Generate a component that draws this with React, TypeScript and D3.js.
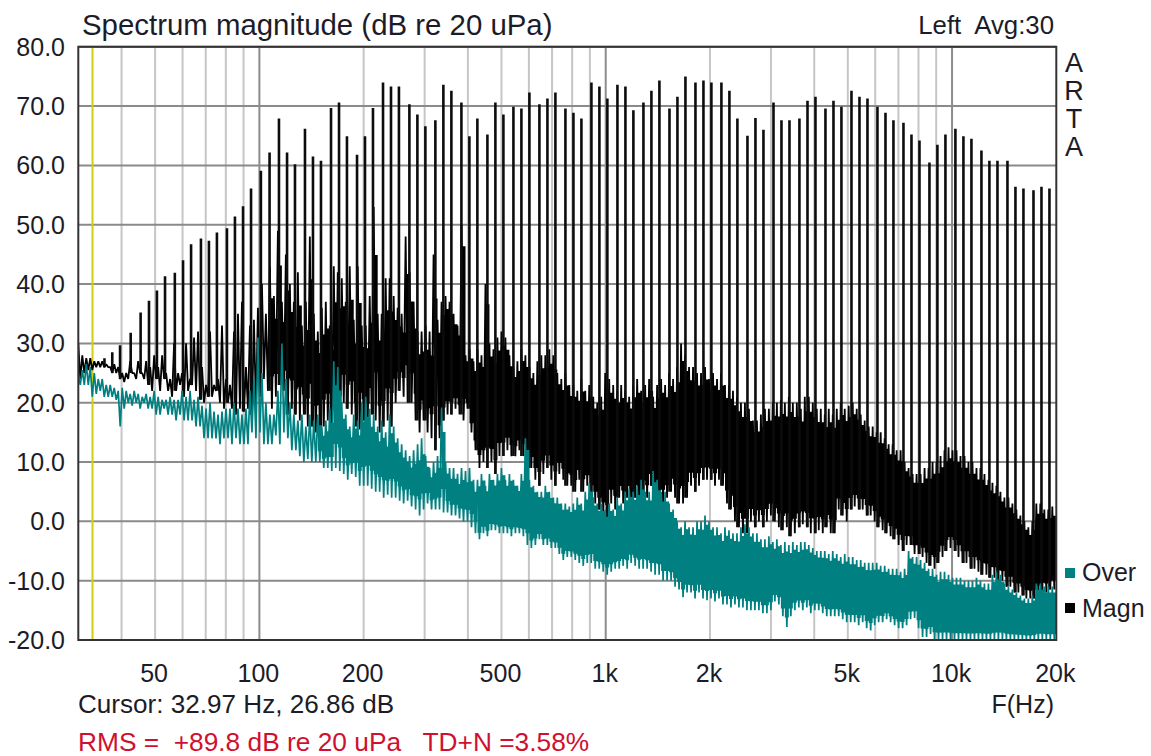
import React from "react";
import * as d3 from "d3";

const W = 1151, H = 756;
const FONT = "'Liberation Sans', Arial, sans-serif";

const yTicks = [80, 70, 60, 50, 40, 30, 20, 10, 0, -10, -20];
const majorFreqs = [100, 1000, 10000];
const minorFreqs = [40, 50, 60, 70, 80, 90, 200, 300, 400, 500, 600, 700, 800, 900, 2000, 3000, 4000, 5000, 6000, 7000, 8000, 9000];
const xLabels: [number, string][] = [[50, "50"], [100, "100"], [200, "200"], [500, "500"], [1000, "1k"], [2000, "2k"], [5000, "5k"], [10000, "10k"], [20000, "20k"]];
const cursorHz = 32.97;

const toneHz = [35.7, 37.6, 39.6, 42.5, 45.4, 48.0, 50.6, 53.4, 57.0, 60.2, 63.5, 67.8, 71.5, 75.4, 80.6, 85.0, 89.7, 94.6, 101, 107, 113.9, 120.2, 126.7, 135.4, 142.8, 150.6, 161, 169.8, 179, 191.4, 201.8, 212.8, 227.5, 239.9, 252.9, 271.1, 285.9, 301.5, 322.2, 339.8, 358.4, 383.1, 404, 426, 455.4, 480.2, 506.5, 541.4, 570.9, 602.1, 643.5, 678.7, 715.7, 765, 806.8, 850.8, 909.3, 958.9, 1011, 1081, 1140, 1202, 1285, 1355, 1429, 1528, 1611, 1699, 1816, 1915, 2019, 2158, 2276, 2400, 2566, 2706, 2854, 3051, 3217, 3393, 3625, 3825, 4033, 4310, 4546, 4793, 5124, 5404, 5699, 6090, 6424, 6773, 7240, 7636, 8053, 8605, 9073, 9570, 10226, 10786, 11376, 12158, 12820, 13525, 14454, 15243, 16075, 17185, 18122, 19110];
const toneDb = [27.5, 28.5, 29.7, 31.8, 35.2, 37.2, 38.9, 41.3, 41.9, 44, 46.7, 47.7, 47.3, 48.7, 49.4, 51.4, 53.1, 56.1, 59.1, 62.2, 67.9, 62.2, 60.2, 66.2, 61.5, 60.8, 69.7, 70.6, 64.9, 61.8, 64.9, 69.7, 74, 73.3, 73.3, 70.3, 68.6, 66.6, 67.6, 73.6, 72.6, 70.6, 64.9, 67.9, 65.2, 70.6, 68.6, 69.9, 69.6, 72.3, 70.3, 71.3, 72.3, 69.6, 68.9, 67.9, 74, 73.3, 71.3, 73.6, 73.3, 69.3, 70.6, 72.6, 74.3, 69.6, 71.6, 75, 74, 74.3, 74, 74, 72.6, 67.9, 65, 68, 66, 70.6, 67.6, 67.6, 67.9, 70.9, 71.6, 69.6, 70.9, 69.9, 72.6, 71.6, 71.3, 69.9, 68.9, 67.6, 67.2, 65.2, 64.2, 60.5, 63.5, 65.2, 66.2, 64.9, 64.5, 62.5, 60.8, 60.8, 60.8, 56.4, 56.1, 55.8, 56.4, 56.1];

// Noise envelopes, one value per log-spaced bin across 30 Hz - 20 kHz
const magnHigh = [
  30, 28, 27.5, 27.5, 27, 27, 27, 26.5, 26, 26.5,
  26, 25, 25, 27, 25, 27, 25, 27, 26, 28,
  26, 28, 25, 24, 30, 25, 25, 30, 24, 31,
  32, 26, 23, 32, 23, 24, 33, 24, 23, 32,
  35, 37, 26, 33, 34, 36, 40, 35, 43, 38,
  49, 37, 45, 40, 37, 42, 33, 37, 48, 35,
  32, 36, 37, 33, 43, 42, 41, 37, 43, 34,
  43, 33, 33, 38, 53, 35, 35, 41, 41, 38,
  36, 35, 48, 42, 37, 32, 32, 33, 32, 45,
  34, 37, 38, 37, 35, 33, 50, 28, 29, 27,
  29, 28, 40, 30, 29, 31, 32, 31, 28, 26,
  27, 29, 28, 26, 25, 27, 28, 28, 29, 28,
  25, 24, 25, 23, 23, 22, 24, 22, 23, 21,
  20, 21, 25, 24, 23, 22, 23, 22, 21, 23,
  24, 22, 23, 24, 21, 23, 24, 23, 25, 24,
  26, 30, 28, 26, 26, 25, 25, 26, 24, 25,
  24, 25, 23, 23, 22, 21, 20, 20, 19, 17,
  17, 18, 19, 19, 20, 20, 20.5, 20, 21, 20,
  20, 19, 21, 21, 20, 19, 19, 18, 19, 18,
  19, 20, 19, 19.5, 20, 19, 18, 17, 16, 16,
  15, 15, 14, 13, 13, 12, 12, 10, 9, 8,
  8, 8, 9, 9, 10, 10, 11, 12, 12.5, 12,
  12, 11, 11, 10, 10, 9, 9, 8, 7, 6.5,
  6, 5, 4, 4, 3, 2, 1, 0, -1, 0,
  3, 3, 2, 2, 2.5,
];
const magnLow = [
  24, 25, 25.5, 25.5, 26, 26, 26, 26, 25, 25,
  24, 23.5, 24, 25, 24, 25, 24, 23, 22, 24,
  22, 24, 22, 21, 22, 23, 21, 22, 23, 22,
  20.5, 20, 21, 21, 22, 20, 19, 20, 19, 18,
  19, 18.5, 19, 18, 19, 21, 24, 22, 19, 21,
  23, 22, 18, 19, 18, 17, 18, 16, 16, 15,
  16, 16, 17, 15, 16, 15, 20, 19, 18, 16,
  15.5, 17, 16, 18, 17, 15, 16, 17, 16, 20,
  22, 21, 20, 20, 17, 15, 17, 15, 14, 12,
  14, 17, 18, 18, 19, 18, 17, 19, 15, 12,
  9, 10, 9, 10, 8, 11, 11, 12, 11, 11,
  12, 11, 10, 9, 7, 6, 8, 9, 7, 6,
  8, 7, 6, 6, 5, 7, 5, 6, 4, 3,
  2, 1, 0, 3, 2, 4, 3, 4, 3, 4,
  3, 5, 4, 6, 4, 3, 3, 4, 5, 4,
  3, 3, 4, 6, 5, 6, 7, 7, 7, 6,
  7, 6, 3, 2, 0, -1, -2, -2, 0, -1,
  0, -1, 0, 1, 0, -1, -1.5, -1, -2.5, -2,
  -1, -0.5, -1, -2, -2, -1.5, -2, -1, -2, -2,
  2, 1, 0, 2, 2.5, 2, 2, 1, 1, 0,
  -1, -1.5, -2, -2.5, -3, -4, -5, -4, -4, -5.5,
  -5.5, -6, -7, -7.5, -8, -7, -6, -5, -4.5, -5,
  -6, -7, -7, -8, -8, -8.5, -9, -9, -9.5, -9.5,
  -10, -10, -11, -11, -12, -12, -12.5, -13, -13, -13,
  -12.5, -12, -12, -11.5, -11.5,
];
const overHigh = [
  24.5, 25.5, 26.5, 26, 25, 24, 24, 23, 23, 22.5,
  22, 22.5, 22, 21.5, 22, 21.5, 21, 21.5, 21, 22,
  21, 20.5, 20.5, 21, 20.5, 20.5, 22, 21, 22, 20.5,
  21, 19.5, 19, 20, 18.5, 18, 18.5, 19, 19, 20,
  19, 18, 19, 22, 24, 31, 25, 20, 18, 18,
  22, 30, 24, 20, 18, 17, 18, 16, 18, 17,
  18, 16, 17, 19, 27, 26, 20, 18, 16, 18,
  17, 20, 21, 19, 18, 16, 17, 15, 18, 16,
  14, 13, 12, 11, 12, 13, 14, 11, 9, 10,
  11, 19, 10, 9, 9, 8, 9, 8.5, 9, 7,
  7, 8, 6, 8, 7, 8, 9, 7, 8, 7,
  6, 8, 14, 7, 6, 5, 5, 6, 5, 4,
  4, 3, 3, 2.5, 3, 4, 3, 5, 6.5, 4,
  3, 3, 2, 3, 2, 4, 3, 5, 5.5, 5,
  6, 7, 5, 5, 8.5, 7, 5, 5, 3, 2,
  0, -1, 0, -1, -1, 0, 0, 1, 0, -1,
  -1, -2, -1, -1.5, -2, -2, -1, -0.5, -1, -2,
  -2, -3, -3, -2.5, -3.5, -3, -4, -3.5, -4, -3.5,
  -4, -3.5, -3.5, -4, -4.5, -5, -5, -5, -5.5, -5,
  -5.5, -6, -5.5, -6, -6, -6.5, -6.5, -7, -7, -7,
  -7, -7.5, -7.5, -8, -8, -8, -8.5, -8, -5, -6,
  -6, -6.5, -7, -8, -8, -9, -8.5, -8.5, -9, -9.5,
  -9.5, -9.5, -10, -10, -10, -9.5, -10, -10.5, -10.5, -9,
  -8.5, -9, -10.5, -11, -11.5, -12, -12.5, -13, -13, -12.5,
  -10.5, -10.5, -11, -11, -11,
];
const overLow = [
  23, 23, 23, 21, 21.5, 22, 21, 21, 21, 20.5,
  16, 19, 20, 19.5, 20, 19, 20, 19, 19, 18,
  18, 19, 18, 18, 17, 18, 17, 17, 17, 16,
  16, 14, 14, 14, 14, 13, 14, 14, 13, 14,
  13, 13, 13, 15, 14, 15, 13, 13, 13, 14.5,
  13, 15, 14, 12, 12, 11, 10, 10.5, 10, 10,
  10, 9, 9, 8.5, 9, 8.5, 8, 7, 8, 7.5,
  6, 6, 6, 5.5, 5, 5, 4, 4.5, 4, 4,
  3.5, 3, 3.5, 2.5, 2, 1, 2, 3, 2, 2,
  2, 1.5, 1.5, 1, 1, 0.5, 0, 0, -1, -2,
  -3, -2, -2.5, -1.5, -1.5, -2, -2, -2, -2.5, -2,
  -2, -2.5, -4, -4.5, -4, -3, -4, -4, -4.5, -4.5,
  -5.5, -6.5, -6, -6, -6.5, -7, -7.5, -7, -7, -8,
  -8, -8.5, -9, -8.5, -8, -8, -7.5, -8, -7, -7.5,
  -8, -8, -8, -8.5, -9, -9, -10, -10, -10, -11,
  -11.5, -12.8, -12, -12, -13, -12, -13, -13.3, -13, -13.5,
  -13, -14, -14, -14.5, -14, -14.5, -14.5, -15, -15, -15,
  -15, -15.5, -15.5, -15, -13.5, -14, -16, -17.8, -16, -15,
  -14.5, -15, -14.5, -15.5, -15, -15, -15.5, -16, -16, -16,
  -16, -16.5, -17, -17, -17, -17.5, -17, -18, -18.4, -17.5,
  -17, -17, -16.5, -17, -17.5, -18, -18, -17.5, -16.5, -16.3,
  -18, -19.5, -19.5, -19, -20, -20, -20, -20, -20, -20,
  -20, -20, -20, -20, -20, -20, -20, -20, -20, -20,
  -20, -20, -20, -20, -20, -20, -20, -20, -20, -20,
  -20, -20, -20, -20, -20,
];

const PLOT = { left: 78.3, right: 1056.3, top: 46.8, bottom: 640 };
const x = d3.scaleLog().domain([30, 20000]).range([PLOT.left, PLOT.right]);
const y = d3.scaleLinear().domain([-20, 80]).range([PLOT.bottom, PLOT.top]);

const binCount = magnHigh.length;
const binHz = d3.range(binCount + 1).map((i) => 30 * Math.pow(20000 / 30, i / binCount));
// each bin is traced as the trace itself is: up to its high value, down to its low one
const zigzag = (hi: number[], lo: number[]) => {
  const pts: [number, number][] = [];
  hi.forEach((h, i) => {
    pts.push([binHz[i], h]);
    pts.push([Math.sqrt(binHz[i] * binHz[i + 1]), lo[i]]);
  });
  return d3.line<[number, number]>().x((p) => x(p[0])).y((p) => y(p[1]))(pts) as string;
};
// the trace is so dense from some bin on that the middle of its band reads as solid
const core = (hi: number[], lo: number[], from: number, to: number, frac: number) =>
  d3.area<number>()
    .x((i) => x(binHz[i]))
    .y0((i) => { const j = Math.min(i, to - 1); return y((hi[j] + lo[j]) / 2 - ((hi[j] - lo[j]) / 2) * frac); })
    .y1((i) => { const j = Math.min(i, to - 1); return y((hi[j] + lo[j]) / 2 + ((hi[j] - lo[j]) / 2) * frac); })
    .curve(d3.curveStepAfter)(d3.range(from, to + 1)) as string;
const lowAt = (f: number) => magnLow[Math.min(d3.bisectRight(binHz, f) - 1, binCount - 1)];

export default function App() {
  const txt = { fontFamily: FONT, fontSize: 25, fill: "#1c1c28" };
  return (
    <svg width={W} height={H} style={{ position: "absolute", left: 0, top: 0, display: "block", background: "#fff" }}>
      <defs>
        <clipPath id="plot"><rect x={PLOT.left} y={PLOT.top} width={PLOT.right - PLOT.left} height={PLOT.bottom - PLOT.top} /></clipPath>
      </defs>
      {minorFreqs.map((f) => <line key={f} x1={x(f)} x2={x(f)} y1={PLOT.top} y2={PLOT.bottom} stroke="#c6c6c6" strokeWidth={2} />)}
      {majorFreqs.map((f) => <line key={f} x1={x(f)} x2={x(f)} y1={PLOT.top} y2={PLOT.bottom} stroke="#8c8c8c" strokeWidth={2} />)}
      {yTicks.map((v) => <line key={v} x1={PLOT.left} x2={PLOT.right} y1={y(v)} y2={y(v)} stroke="#8a8a8a" strokeWidth={2} />)}
      <line x1={x(cursorHz)} x2={x(cursorHz)} y1={PLOT.top} y2={PLOT.bottom} stroke="#cfcf10" strokeWidth={2} />
      <g clipPath="url(#plot)">
        <path d={zigzag(magnHigh, magnLow)} fill="none" stroke="#000" strokeWidth={1.8} strokeLinejoin="bevel" />
        <path d={core(magnHigh, magnLow, 48, 90, 0.55)} fill="#000" />
        <path d={core(magnHigh, magnLow, 90, binCount, 0.78)} fill="#000" />
        {toneHz.map((f, i) => <line key={f} x1={x(f)} x2={x(f)} y1={y(toneDb[i])} y2={y(lowAt(f))} stroke="#0c0c0c" strokeWidth={2.6} />)}
        <path d={zigzag(overHigh, overLow)} fill="none" stroke="#008080" strokeWidth={1.7} strokeLinejoin="bevel" />
        <path d={core(overHigh, overLow, 60, 100, 0.55)} fill="#008080" />
        <path d={core(overHigh, overLow, 100, binCount, 0.78)} fill="#008080" />
      </g>
      <rect x={PLOT.left} y={PLOT.top} width={PLOT.right - PLOT.left} height={PLOT.bottom - PLOT.top} fill="none" stroke="#333" strokeWidth={2} />

      {yTicks.map((v) => <text key={v} {...txt} x={65} y={y(v) + 9} textAnchor="end">{v.toFixed(1)}</text>)}
      {xLabels.map(([f, s]) => <text key={f} {...txt} x={x(f) - 1} y={682} textAnchor="middle">{s}</text>)}
      <text {...txt} fontSize={29.4} x={82} y={35}>Spectrum magnitude (dB re 20 uPa)</text>
      <text {...txt} fontSize={25.8} x={1054} y={34} textAnchor="end" xmlSpace="preserve">Left  Avg:30</text>
      {["A", "R", "T", "A"].map((c, i) => <text key={i} {...txt} fontSize={27} x={1074} y={72 + i * 28} textAnchor="middle">{c}</text>)}
      <text {...txt} fontSize={26.1} x={78} y={713}>Cursor: 32.97 Hz, 26.86 dB</text>
      <text {...txt} x={1054} y={713} textAnchor="end">F(Hz)</text>
      <text {...txt} fontSize={26.3} x={78} y={751} fill="#d01030" xmlSpace="preserve">RMS =  +89.8 dB re 20 uPa   TD+N =3.58%</text>
      <rect x={1065} y={568} width={10} height={10} fill="#008080" />
      <text {...txt} x={1082} y={581}>Over</text>
      <rect x={1065} y={603} width={10} height={10} fill="#000" />
      <text {...txt} x={1082} y={617}>Magn</text>
    </svg>
  );
}
